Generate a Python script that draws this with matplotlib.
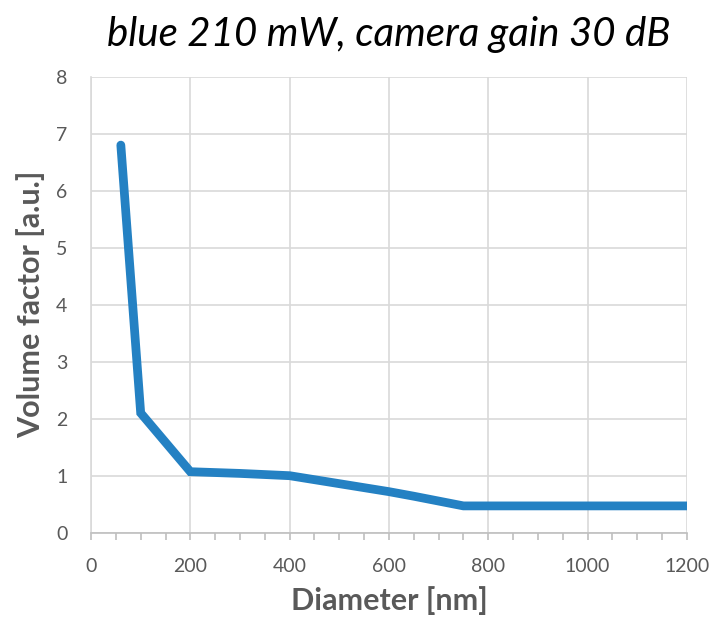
import matplotlib.pyplot as plt
import numpy as np

# particle diameter [nm] vs. volume factor
diameter = [60, 100, 200, 300, 400, 500, 600, 650, 750, 800, 900, 1000, 1100, 1200]
volume = [6.8, 2.1, 1.07, 1.04, 1.0, 0.86, 0.72, 0.64, 0.47, 0.47, 0.47, 0.47, 0.47, 0.47]

xticks = [0, 200, 400, 600, 800, 1000, 1200]
yticks = [0, 1, 2, 3, 4, 5, 6, 7, 8]

plt.rcParams['font.family'] = ['Lato', 'DejaVu Sans']
grey = '#595959'

fig = plt.figure(figsize=(7.14, 6.21), dpi=100)
ax = fig.add_axes([0.1275, 0.1422, 0.8345, 0.7343])

ax.plot(diameter, volume, color='#2481c3', lw=6.3, solid_joinstyle='miter',
        solid_capstyle='round', zorder=3)

ax.set_xlim(0, 1200)
ax.set_ylim(0, 8)
ax.set_xticks(xticks)
ax.set_yticks(yticks)
ax.set_xticks(np.arange(0, 1201, 50), minor=True)

ax.grid(True, color='#d9d9d9', lw=1.2)
ax.set_axisbelow(True)
for s in ['top', 'right']:
    ax.spines[s].set_visible(False)
ax.spines['left'].set_color('#d9d9d9')
ax.spines['bottom'].set_color('#bfbfbf')
ax.spines['left'].set_linewidth(1.2)
ax.spines['bottom'].set_linewidth(1.2)

ax.tick_params(axis='y', length=0, pad=17, labelsize=14, labelcolor=grey)
ax.tick_params(axis='x', which='both', direction='out', length=5, width=1.2,
               color='#bfbfbf', pad=13, labelsize=14, labelcolor=grey)

ax.set_xlabel('Diameter [nm]', fontsize=22, fontweight='bold', color=grey, labelpad=8)
ax.set_ylabel('Volume factor [a.u.]', fontsize=22, fontweight='bold', color=grey, labelpad=8)
fig.text(0.545, 1 - 46 / 621, 'blue 210 mW, camera gain 30 dB', fontsize=29, style='italic',
         ha='center', va='baseline', color='black')

fig.savefig('out.png', dpi=100)
